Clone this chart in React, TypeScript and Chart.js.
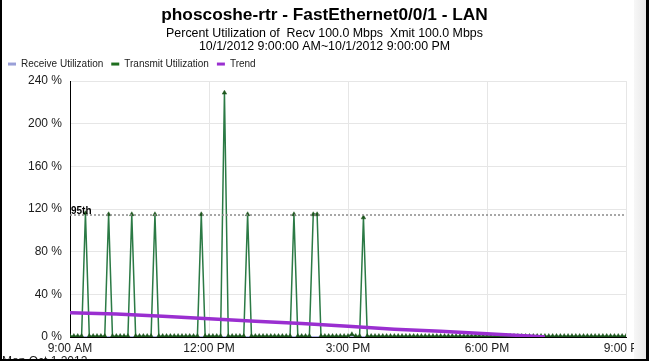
import React, { useEffect, useRef } from "react";
import { Chart, registerables, layouts } from "chart.js";

Chart.register(...registerables);

const titleText = "phoscoshe-rtr - FastEthernet0/0/1 - LAN";
const subtitleLines = [
  "Percent Utilization of  Recv 100.0 Mbps  Xmit 100.0 Mbps",
  "10/1/2012 9:00:00 AM~10/1/2012 9:00:00 PM",
];
const seriesNames = ["Receive Utilization", "Transmit Utilization", "Trend"];
const xTickMinutes = [0, 180, 360, 540, 720];
const xTickLabels = ["9:00 AM", "12:00 PM", "3:00 PM", "6:00 PM", "9:00 PM"];
const yTickValues = [0, 40, 80, 120, 160, 200, 240];
const footerText = "Mon Oct 1 2012";

// 5-minute samples starting 9:00 AM (one row per hour)
const sampleStepMinutes = 5;
const transmitValues = [
  0.8, 0.8, 0.8, 0.8, 116, 0.8, 0.8, 0.8, 0.8, 0.8, 115, 0.8,
  0.8, 0.8, 0.8, 0.8, 115, 0.8, 0.8, 0.8, 0.8, 0.8, 115, 0.8,
  0.8, 0.8, 0.8, 0.8, 0.8, 0.8, 0.8, 0.8, 0.8, 0.8, 115, 0.8,
  0.8, 0.8, 0.8, 0.8, 229, 0.8, 0.8, 0.8, 0.8, 0.8, 115, 0.8,
  0.8, 0.8, 0.8, 0.8, 0.8, 0.8, 0.8, 0.8, 0.8, 0.8, 115, 0.8,
  0.8, 0.8, 0.8, 115, 115, 0.8, 0.8, 0.8, 0.8, 0.8, 0.8, 0.8,
  0.8, 2.5, 0.8, 0.8, 112, 0.8, 0.8, 0.8, 0.8, 0.8, 0.8, 0.8,
  0.8, 0.8, 0.8, 0.8, 0.8, 0.8, 0.8, 0.8, 0.8, 0.8, 0.8, 0.8,
  0.8, 0.8, 0.8, 0.8, 0.8, 0.8, 0.8, 0.8, 0.8, 0.8, 0.8, 0.8,
  0.8, 0.8, 0.8, 0.8, 0.8, 0.8, 0.8, 0.8, 0.8, 0.8, 0.8, 0.8,
  0.8, 0.8, 0.8, 0.8, 0.8, 0.8, 0.8, 0.8, 0.8, 0.8, 0.8, 0.8,
  0.8, 0.8, 0.8, 0.8, 0.8, 0.8, 0.8, 0.8, 0.8, 0.8, 0.8, 0.8,
  0.8,
];

const receiveMinutes = [0, 60, 120, 180, 240, 300, 360, 420, 480, 540, 600, 660, 720];
const receiveValues = [0.3, 0.3, 0.3, 0.3, 0.3, 0.3, 0.3, 0.3, 0.3, 0.3, 0.3, 0.3, 0.3];

const trendMinutes = [0, 60, 120, 180, 240, 300, 360, 420, 480, 540, 600, 615];
const trendValues = [22.8, 21.5, 19.5, 17, 14.7, 12.7, 10, 7.3, 5.5, 3, 0.8, 0];

const p95Value = 114.5;
const p95Label = "95th";

const colors = {
  receive: "#9aa0d8",
  transmit: "#2b7a45",
  transmitPoint: "#1d561d",
  transmitLegend: "#1f6e1f",
  trend: "#9a2fd0",
  p95: "#8a8a8a",
  grid: "#e6e6e6",
  axis: "#000000",
  text: "#1a1a1a",
};

const FONT = "'Liberation Sans', Arial, sans-serif";

export default function App() {
  const canvasRef = useRef<HTMLCanvasElement | null>(null);

  useEffect(() => {
    document.body.style.margin = "0";
    const canvas = canvasRef.current;
    if (!canvas) return;

    const p95Plugin = {
      id: "p95Label",
      afterDatasetsDraw(chart: any) {
        const { ctx, chartArea, scales } = chart;
        const y = scales.y.getPixelForValue(p95Value);
        ctx.save();
        ctx.font = `bold 10px ${FONT}`;
        ctx.fillStyle = "#000";
        ctx.textAlign = "left";
        ctx.textBaseline = "bottom";
        ctx.fillText(p95Label, chartArea.left + 1, y + 1);
        ctx.restore();
      },
    };

    // small empty box between legend and plot area
    const spacerPlugin = {
      id: "legendSpacer",
      beforeInit(chart: any) {
        const box: any = {
          position: "top",
          weight: 500,
          fullSize: true,
          options: {},
          top: 0,
          left: 0,
          right: 0,
          bottom: 0,
          width: 0,
          height: 0,
          isHorizontal() {
            return true;
          },
          getPadding() {
            return { top: 0, left: 0, right: 0, bottom: 0 };
          },
          update(maxWidth: number) {
            this.width = maxWidth;
            this.height = 2;
          },
          draw() {},
        };
        layouts.addBox(chart, box);
      },
    };

    const chart = new Chart(canvas, {
      type: "line",
      data: {
        datasets: [
          {
            label: seriesNames[0],
            data: receiveMinutes.map((m, i) => ({ x: m, y: receiveValues[i] })),
            borderColor: colors.receive,
            backgroundColor: colors.receive,
            borderWidth: 1,
            pointRadius: 0,
            order: 3,
          },
          {
            label: seriesNames[1],
            data: transmitValues.map((v, i) => ({ x: i * sampleStepMinutes, y: v })),
            borderColor: colors.transmit,
            backgroundColor: colors.transmitLegend,
            borderWidth: 1.5,
            pointStyle: "triangle",
            pointRadius: 2.6,
            pointBackgroundColor: colors.transmitPoint,
            pointBorderColor: colors.transmitPoint,
            pointBorderWidth: 0.5,
            order: 2,
          },
          {
            label: seriesNames[2],
            data: trendMinutes.map((m, i) => ({ x: m, y: trendValues[i] })),
            borderColor: colors.trend,
            backgroundColor: colors.trend,
            borderWidth: 3.5,
            pointRadius: 0,
            order: 1,
          },
          {
            label: "p95",
            data: [
              { x: 0, y: p95Value },
              { x: 720, y: p95Value },
            ],
            borderColor: colors.p95,
            backgroundColor: colors.p95,
            borderWidth: 1.5,
            borderDash: [2, 2],
            pointRadius: 0,
            order: 0,
          },
        ],
      },
      options: {
        responsive: false,
        animation: false,
        devicePixelRatio: 1,
        layout: { padding: { left: 0, right: 0, top: 0, bottom: 0 } },
        font: { family: FONT },
        plugins: {
          tooltip: { enabled: false },
          title: {
            display: true,
            text: titleText,
            color: "#000",
            font: { family: FONT, size: 17.3, weight: "bold", lineHeight: 1.2 },
            padding: { top: 5, bottom: 0 },
          },
          subtitle: {
            display: true,
            text: subtitleLines,
            color: "#000",
            font: { family: FONT, size: 12.4, lineHeight: 1.04 },
            padding: { top: 1.5, bottom: -2 },
          },
          legend: {
            display: true,
            position: "top",
            align: "start",
            labels: {
              boxWidth: 8,
              boxHeight: 3,
              padding: 8,
              color: "#222",
              font: { family: FONT, size: 10 },
              sort: (a: any, b: any) => a.datasetIndex - b.datasetIndex,
              filter: (item: any) => item.datasetIndex < 3,
              generateLabels: (ch: any) => {
                const base = Chart.defaults.plugins.legend.labels.generateLabels(ch);
                return base.map((it: any) => ({
                  ...it,
                  lineWidth: 0,
                  lineDash: [],
                  strokeStyle: it.fillStyle,
                }));
              },
            },
          },
        },
        scales: {
          x: {
            type: "linear",
            min: 0,
            max: 720,
            afterFit: (s: any) => {
              s.height = 24;
              s.paddingLeft = 0;
              s.paddingRight = 23;
            },
            afterBuildTicks: (s: any) => {
              s.ticks = xTickMinutes.map((v) => ({ value: v }));
            },
            ticks: {
              autoSkip: false,
              maxRotation: 0,
              padding: 4,
              color: colors.text,
              font: { family: FONT, size: 12 },
              callback: (v: any) => {
                const i = xTickMinutes.indexOf(Number(v));
                return i >= 0 ? xTickLabels[i] : "";
              },
            },
            grid: { color: colors.grid, drawTicks: false, lineWidth: 1 },
            border: { color: colors.axis, width: 1 },
          },
          y: {
            type: "linear",
            min: 0,
            max: 240,
            afterFit: (s: any) => {
              s.width = 70;
            },
            afterBuildTicks: (s: any) => {
              s.ticks = yTickValues.map((v) => ({ value: v }));
            },
            ticks: {
              padding: 8,
              color: colors.text,
              font: { family: FONT, size: 12 },
              callback: (v: any) => `${v} %`,
            },
            grid: { color: colors.grid, drawTicks: false, lineWidth: 1 },
            border: { color: colors.axis, width: 1 },
          },
        },
      },
      plugins: [p95Plugin, spacerPlugin],
    });

    return () => chart.destroy();
  }, []);

  return (
    <div
      style={{
        position: "relative",
        width: 649,
        height: 361,
        overflow: "hidden",
        background: "#fff",
      }}
    >
      <canvas ref={canvasRef} width={649} height={361} style={{ display: "block" }} />
      <div
        style={{
          position: "absolute",
          left: 2,
          top: 354,
          whiteSpace: "nowrap",
          font: `12px ${FONT}`,
          color: "#1a1a1a",
        }}
      >
        {footerText}
      </div>
      <div style={{ position: "absolute", left: 0, top: 0, width: 2, height: 361, background: "#000" }} />
      <div style={{ position: "absolute", left: 0, top: 359, width: 649, height: 2, background: "#000" }} />
      <div
        style={{
          position: "absolute",
          left: 634,
          top: 0,
          width: 12,
          height: 359,
          background: "linear-gradient(to right, #f7f7f7, #e9e9e9)",
        }}
      />
      <div style={{ position: "absolute", left: 646, top: 0, width: 3, height: 361, background: "#000" }} />
    </div>
  );
}
